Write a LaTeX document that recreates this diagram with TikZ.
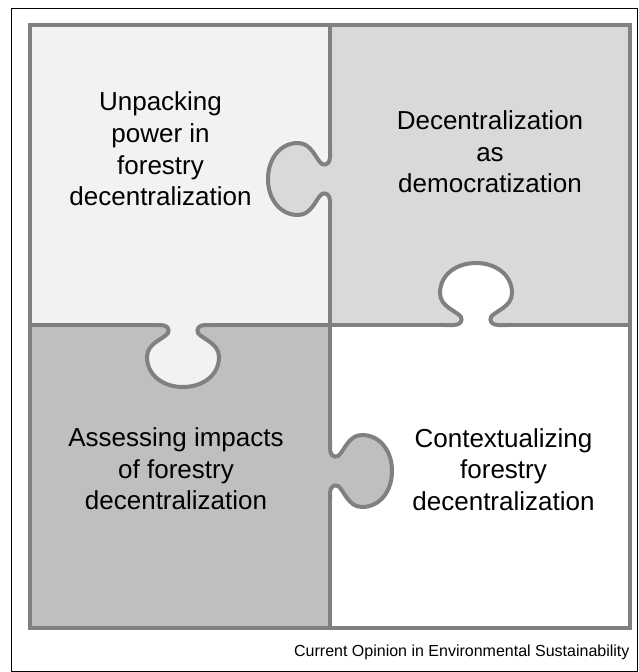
\documentclass[tikz,border=0pt]{standalone}
\usepackage{fontspec}
\setmainfont{Liberation Sans}
\definecolor{piecea}{gray}{0.95}
\definecolor{pieceb}{gray}{0.85}
\definecolor{piecec}{gray}{0.75}
\definecolor{seamgray}{gray}{0.5}
\tikzset{
  seam/.style={color=seamgray,line width=4pt},
  piecetext/.style={align=center,font=\fontsize{26}{31.7}\selectfont},
  pics/knob/.style={code={
    \fill[#1] (-30,0) -- (-22,0) .. controls (-16,0) and (-13,4) .. (-15,8) .. controls (-19,14) and (-36,18) .. (-36,32) .. controls (-36,50) and (-20,62) .. (0,62) .. controls (20,62) and (36,50) .. (36,32) .. controls (36,18) and (19,14) .. (15,8) .. controls (13,4) and (16,0) .. (22,0) -- (30,0) -- cycle;
    \draw[seam] (-30,0) -- (-22,0) .. controls (-16,0) and (-13,4) .. (-15,8) .. controls (-19,14) and (-36,18) .. (-36,32) .. controls (-36,50) and (-20,62) .. (0,62) .. controls (20,62) and (36,50) .. (36,32) .. controls (36,18) and (19,14) .. (15,8) .. controls (13,4) and (16,0) .. (22,0) -- (30,0);
  }}
}

\begin{document}
\begin{tikzpicture}[line cap=round,line join=round,x=1pt,y=-1pt]
      \useasboundingbox (0,0) rectangle (638,672);
      \fill[white] (0,0) rectangle (638,672);
      \draw[black,line width=1pt] (11,8) rectangle (637,671);
      \fill[piecea] (30,25) rectangle (330,325);
      \fill[pieceb] (330,25) rectangle (630,325);
      \fill[piecec] (30,325) rectangle (330,628);
      \fill[white] (330,325) rectangle (630,628);
      \pic[rotate=-90] at (330,179) {knob=pieceb};
      \pic[rotate=180] at (476,325) {knob=white};
      \pic at (183,325) {knob=piecea};
      \pic[rotate=90] at (330,471) {knob=piecec};
      \draw[seam] (330,25) -- (330,149);
      \draw[seam] (330,209) -- (330,441);
      \draw[seam] (330,501) -- (330,628);
      \draw[seam] (30,325) -- (153,325);
      \draw[seam] (213,325) -- (446,325);
      \draw[seam] (506,325) -- (630,325);
      \draw[seam,line join=miter] (30,25) rectangle (630,628);
      \node[piecetext] (power) at (160.5,149) {Unpacking\\power in\\forestry\\decentralization};
      \node[piecetext] (democracy) at (490,152) {Decentralization\\as\\democratization};
      \node[piecetext] (impacts) at (176,469) {Assessing impacts\\of forestry\\decentralization};
      \node[piecetext] (context) at (503.5,469.5) {Contextualizing\\forestry\\decentralization};
      \node[anchor=base east,font=\fontsize{16}{19}\selectfont] (journal) at (633,656) {Current Opinion in Environmental Sustainability};
\end{tikzpicture}
\end{document}
